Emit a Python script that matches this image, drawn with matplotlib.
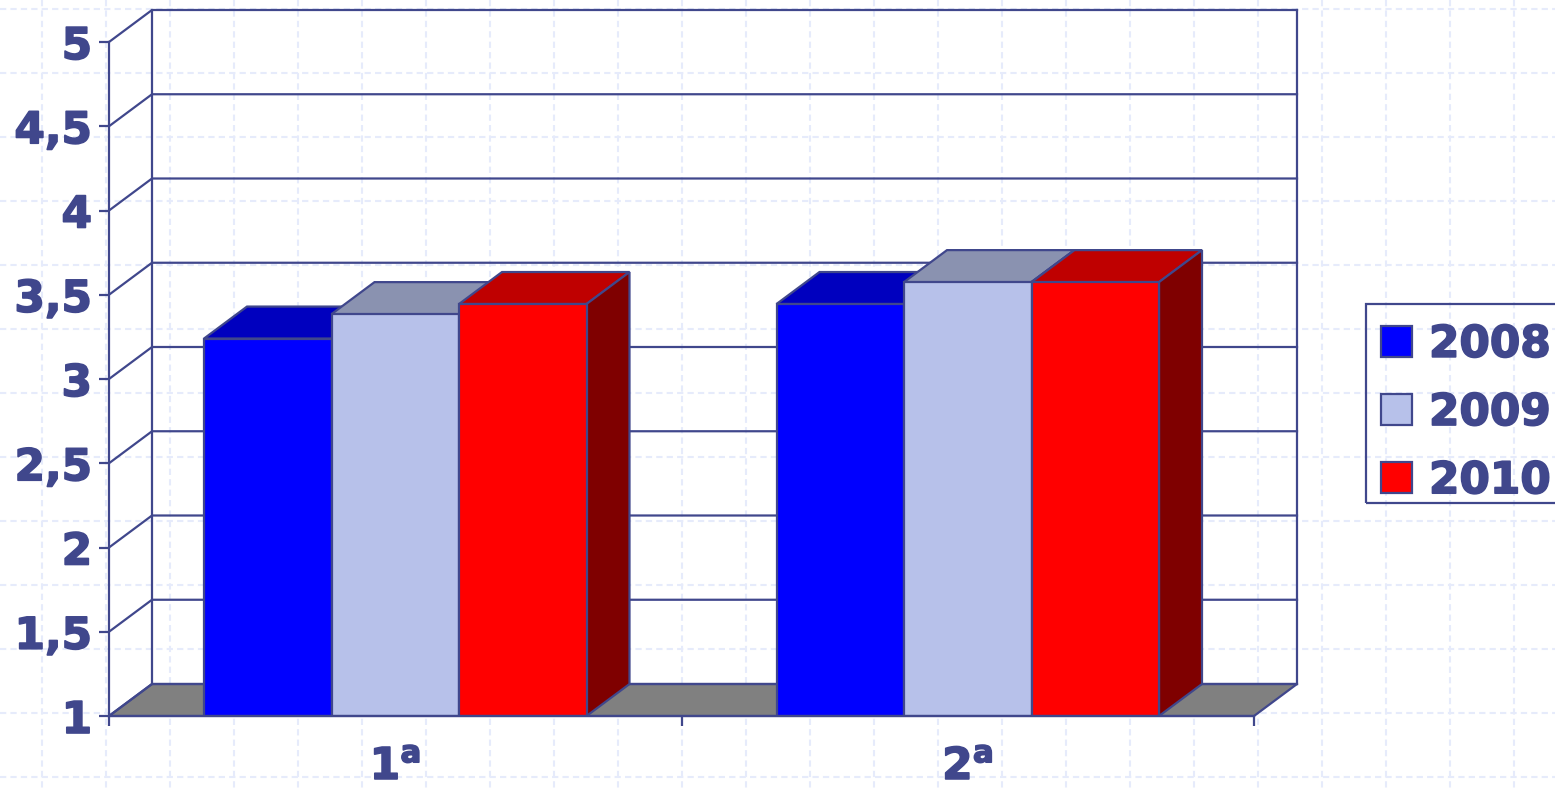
#!/usr/bin/python3

import matplotlib
matplotlib.use("Agg")
import matplotlib.pyplot as plt
import matplotlib.patheffects as pe
import numpy as np
from matplotlib.patches import Patch, Polygon, Rectangle

categories = [r"1$^{\mathbf{a}}$", r"2$^{\mathbf{a}}$"]
years = ["2008", "2009", "2010"]
values_2008 = [3.24, 3.445]
values_2009 = [3.385, 3.575]
values_2010 = [3.445, 3.575]
y_ticks = [1, 1.5, 2, 2.5, 3, 3.5, 4, 4.5, 5]
y_labels = ["1", "1,5", "2", "2,5", "3", "3,5", "4", "4,5", "5"]

line_color = "#40478c"
front_colors = ["#0000ff", "#b7c1ea", "#ff0000"]
top_colors = ["#0000bf", "#8a92b0", "#bf0000"]
side_colors = ["#00007f", "#5c6178", "#7f0000"]

W, H = 1555, 788
plt.rcParams["font.family"] = "DejaVu Sans"
plt.rcParams["font.weight"] = "bold"
plt.rcParams["mathtext.fontset"] = "dejavusans"
font_size = 31.5
heavy = [pe.withStroke(linewidth=1.2, foreground=line_color)]

fig = plt.figure(figsize=(W / 100, H / 100), dpi=100, facecolor="white")

# slide background, faint dashed grid
bg = fig.add_axes([0, 0, 1, 1], zorder=0)
bg.set_xlim(0, W)
bg.set_ylim(H, 0)
bg.axis("off")
bg.vlines(np.arange(42, W, 64), 0, H, colors="#e6ebfb", linewidth=1.5, linestyles=(0, (3, 2)))
bg.hlines(np.arange(9, H, 64), 0, W, colors="#e6ebfb", linewidth=1.5, linestyles=(0, (3, 2)))

# front plane of the fake 3d chart
ax = fig.add_axes([109 / W, (H - 716) / H, 1145 / W, 674 / H], zorder=1)
ax.patch.set_visible(False)
ax.set_xlim(0, 2)
ax.set_ylim(1, 5)
dx = 43 / 572.5
dy = 32 / 168.5
lw = 1.6

# floor
ax.add_patch(Polygon([(0, 1), (dx, 1 + dy), (2 + dx, 1 + dy), (2, 1)], closed=True,
                     facecolor="#808080", edgecolor=line_color, linewidth=lw, clip_on=False, zorder=0.5))
# walls
for t in y_ticks:
    ax.plot([0, dx, 2 + dx], [t, t + dy, t + dy], color=line_color, linewidth=lw, clip_on=False, zorder=0.6)
ax.plot([dx, dx], [1 + dy, 5 + dy], color=line_color, linewidth=lw, clip_on=False, zorder=0.6)
ax.plot([2 + dx, 2 + dx], [1 + dy, 5 + dy], color=line_color, linewidth=lw, clip_on=False, zorder=0.6)

# bars, left to right so that each one covers the side of the previous
width = 127.5 / 572.5
series = [values_2008, values_2009, values_2010]
z = 1.0
for c in range(len(categories)):
    for s in range(len(series)):
        left = c + 0.5 + (s - 1.5) * width
        v = series[s][c]
        top = [(left, v), (left + dx, v + dy), (left + width + dx, v + dy), (left + width, v)]
        side = [(left + width, 1), (left + width + dx, 1 + dy), (left + width + dx, v + dy), (left + width, v)]
        ax.add_patch(Polygon(top, closed=True, facecolor=top_colors[s], edgecolor=line_color,
                             linewidth=lw, clip_on=False, zorder=z))
        ax.add_patch(Polygon(side, closed=True, facecolor=side_colors[s], edgecolor=line_color,
                             linewidth=lw, clip_on=False, zorder=z + 0.01))
        ax.bar(left, v - 1, bottom=1, width=width, align="edge", color=front_colors[s],
               edgecolor=line_color, linewidth=lw, zorder=z + 0.02)
        z += 0.05

for name in ["top", "right"]:
    ax.spines[name].set_visible(False)
for name in ["left", "bottom"]:
    ax.spines[name].set_color(line_color)
    ax.spines[name].set_linewidth(lw)

ax.set_yticks(y_ticks, y_labels)
ax.tick_params(axis="y", length=7.2, width=lw, color=line_color, labelcolor=line_color,
               labelsize=font_size, pad=5)
ax.set_xticks([0, 1, 2], ["", "", ""])
ax.set_xticks([0.5, 1.5], categories, minor=True)
ax.tick_params(axis="x", which="major", length=7.2, width=lw, color=line_color)
ax.tick_params(axis="x", which="minor", length=0, labelcolor=line_color, labelsize=font_size, pad=21)
for lab in ax.get_yticklabels() + ax.get_xticklabels(minor=True):
    lab.set_path_effects(heavy)

# legend box runs off the slide, so the frame is drawn apart from the entries
fig.add_artist(Rectangle((1366 / W, (H - 503) / H), 200 / W, 199 / H, transform=fig.transFigure,
                         facecolor="none", edgecolor=line_color, linewidth=lw, zorder=2))
handles = [Patch(facecolor=front_colors[i], edgecolor=line_color, linewidth=lw, label=years[i]) for i in range(3)]
leg = fig.legend(handles=handles, loc="upper left", bbox_to_anchor=(1366 / W, (H - 308) / H), borderaxespad=0,
                 fontsize=font_size, frameon=False, handlelength=0.71, handleheight=0.71,
                 handletextpad=0.39, borderpad=0.34, labelspacing=0.575, labelcolor=line_color)
for txt in leg.get_texts():
    txt.set_path_effects(heavy)

fig.savefig("out.png", dpi=100)
